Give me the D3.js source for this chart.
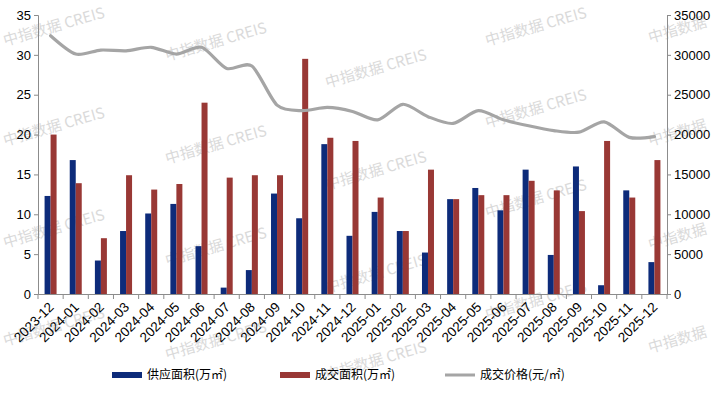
<!DOCTYPE html>
<html>
<head>
<meta charset="utf-8">
<script src="https://cdn.jsdelivr.net/npm/d3@7"></script>
<style>
  body { margin: 0; background: #fff; }
  svg { display: block; font-family: "Liberation Sans", Arial, sans-serif; }
</style>
</head>
<body>
<div id="chart"></div>
<script>
// months
var months = ["2023-12", "2024-01", "2024-02", "2024-03", "2024-04", "2024-05", "2024-06",
  "2024-07", "2024-08", "2024-09", "2024-10", "2024-11", "2024-12", "2025-01", "2025-02",
  "2025-03", "2025-04", "2025-05", "2025-06", "2025-07", "2025-08", "2025-09", "2025-10",
  "2025-11", "2025-12"];

// 供应面积 (万㎡)
var supply = [12.3, 16.8, 4.2, 7.9, 10.1, 11.3, 6.0, 0.8, 3.0, 12.6, 9.5, 18.8, 7.3,
  10.3, 7.9, 5.2, 11.9, 13.3, 10.5, 15.6, 4.9, 16.0, 1.1, 13.0, 4.0];

// 成交面积 (万㎡)
var deals = [20.0, 13.9, 7.0, 14.9, 13.1, 13.8, 24.0, 14.6, 14.9, 14.9, 29.5, 19.6, 19.2,
  12.1, 7.9, 15.6, 11.9, 12.4, 12.4, 14.2, 13.0, 10.4, 19.2, 12.1, 16.8];

// 成交价格 (元/㎡)
var price = [32400, 30100, 30600, 30500, 30950, 30100, 30950, 28300, 28600, 23700, 23000,
  23400, 22900, 21850, 23800, 22250, 21400, 23000, 21850, 21100, 20500, 20300, 21600,
  19650, 19750];

var leftTicks = [0, 5, 10, 15, 20, 25, 30, 35];
var rightTicks = [0, 5000, 10000, 15000, 20000, 25000, 30000, 35000];

var legendNames = ["供应面积(万㎡)", "成交面积(万㎡)", "成交价格(元/㎡)"];

var svgWidth = 724, svgHeight = 394;
var margin = { top: 15, right: 57, bottom: 100, left: 38 };
var chartWidth = svgWidth - margin.left - margin.right;
var chartHeight = svgHeight - margin.top - margin.bottom;

var blue = "#0d2b7a", red = "#993835", gray = "#a5a5a5", axisColor = "#8c8c8c";

var svg = d3.select("#chart").append("svg")
  .attr("width", svgWidth)
  .attr("height", svgHeight);

// watermark, tiled like the source image
var wmCols = [
  { x: 5, ys: [38, 138, 240, 338] },
  { x: 167, ys: [53, 156, 258, 352] },
  { x: 327, ys: [80, 182, 285, 372] },
  { x: 487, ys: [38, 120, 210, 312] },
  { x: 650, ys: [35, 138, 242, 345] }
];
var wm = svg.append("g").attr("fill", "#dadada")
  .style("font-family", "'Noto Sans CJK SC', sans-serif")
  .style("font-size", "15px");
wmCols.forEach(function(c) {
  c.ys.forEach(function(y) {
    wm.append("text")
      .attr("transform", `translate(${c.x}, ${y + 8}) rotate(-16)`)
      .text(c.x > 600 ? "中指数据" : "中指数据  CREIS");
  });
});

var chartGroup = svg.append("g")
  .attr("transform", `translate(${margin.left}, ${margin.top})`);

var xScale = d3.scaleBand()
  .domain(months)
  .range([0, chartWidth]);

var yLeft = d3.scaleLinear()
  .domain([0, 35])
  .range([chartHeight, 0]);

var yRight = d3.scaleLinear()
  .domain([0, 35000])
  .range([chartHeight, 0]);

var barW = 6;

// bars
chartGroup.selectAll(".supply").data(months).enter().append("rect")
  .attr("class", "supply")
  .attr("x", (d) => xScale(d) + xScale.bandwidth() / 2 - barW)
  .attr("width", barW)
  .attr("y", (d, i) => yLeft(supply[i]))
  .attr("height", (d, i) => chartHeight - yLeft(supply[i]))
  .attr("fill", blue);

chartGroup.selectAll(".deals").data(months).enter().append("rect")
  .attr("class", "deals")
  .attr("x", (d) => xScale(d) + xScale.bandwidth() / 2)
  .attr("width", barW)
  .attr("y", (d, i) => yLeft(deals[i]))
  .attr("height", (d, i) => chartHeight - yLeft(deals[i]))
  .attr("fill", red);

// price line
var line = d3.line()
  .x((d, i) => xScale(months[i]) + xScale.bandwidth() / 2)
  .y((d) => yRight(d))
  .curve(d3.curveCardinal.tension(0.2));

chartGroup.append("path")
  .datum(price)
  .attr("d", line)
  .attr("fill", "none")
  .attr("stroke", gray)
  .attr("stroke-width", 3.2)
  .attr("stroke-linecap", "round");

// axes
var yAxisL = d3.axisLeft(yLeft).tickValues(leftTicks).tickSize(4).tickPadding(3);
var yAxisR = d3.axisRight(yRight).tickValues(rightTicks).tickSize(4).tickPadding(3)
  .tickFormat(d3.format("d"));
var xAxis = d3.axisBottom(xScale).tickSize(0).tickFormat("");

var gl = chartGroup.append("g").call(yAxisL);
var gr = chartGroup.append("g").attr("transform", `translate(${chartWidth}, 0)`).call(yAxisR);
var gx = chartGroup.append("g").attr("transform", `translate(0, ${chartHeight})`).call(xAxis);

// category boundary ticks
gx.selectAll(".bound").data(months.concat(["end"])).enter().append("line")
  .attr("x1", (d, i) => i * xScale.step())
  .attr("x2", (d, i) => i * xScale.step())
  .attr("y1", 0).attr("y2", 5)
  .attr("stroke", axisColor);

[gl, gr, gx].forEach(function(g) {
  g.select(".domain").attr("stroke", axisColor);
  g.selectAll(".tick line").attr("stroke", axisColor);
  g.selectAll(".tick text").attr("fill", "#000").style("font-size", "13px");
});

// x labels
chartGroup.selectAll(".xlab").data(months).enter().append("text")
  .attr("class", "xlab")
  .attr("transform", (d) => `translate(${xScale(d) + xScale.bandwidth() / 2 + 4}, ${chartHeight + 14}) rotate(-45)`)
  .attr("text-anchor", "end")
  .attr("font-size", "13.5px")
  .attr("fill", "#000")
  .text((d) => d);

// legend
var legend = svg.append("g")
  .attr("transform", "translate(0, 375)")
  .style("font-family", "'Noto Sans CJK SC', sans-serif")
  .style("font-size", "12px");

var items = [
  { x: 112, color: blue, type: "rect" },
  { x: 280, color: red, type: "rect" },
  { x: 445, color: gray, type: "line" }
];
items.forEach(function(it, i) {
  if (it.type === "rect") {
    legend.append("rect").attr("x", it.x).attr("y", -3).attr("width", 30).attr("height", 6).attr("fill", it.color);
  } else {
    legend.append("line").attr("x1", it.x).attr("x2", it.x + 30).attr("y1", 0).attr("y2", 0)
      .attr("stroke", it.color).attr("stroke-width", 3);
  }
  legend.append("text")
    .attr("x", it.x + 35)
    .attr("y", 4)
    .attr("fill", "#000")
    .text(legendNames[i]);
});
</script>
</body>
</html>
